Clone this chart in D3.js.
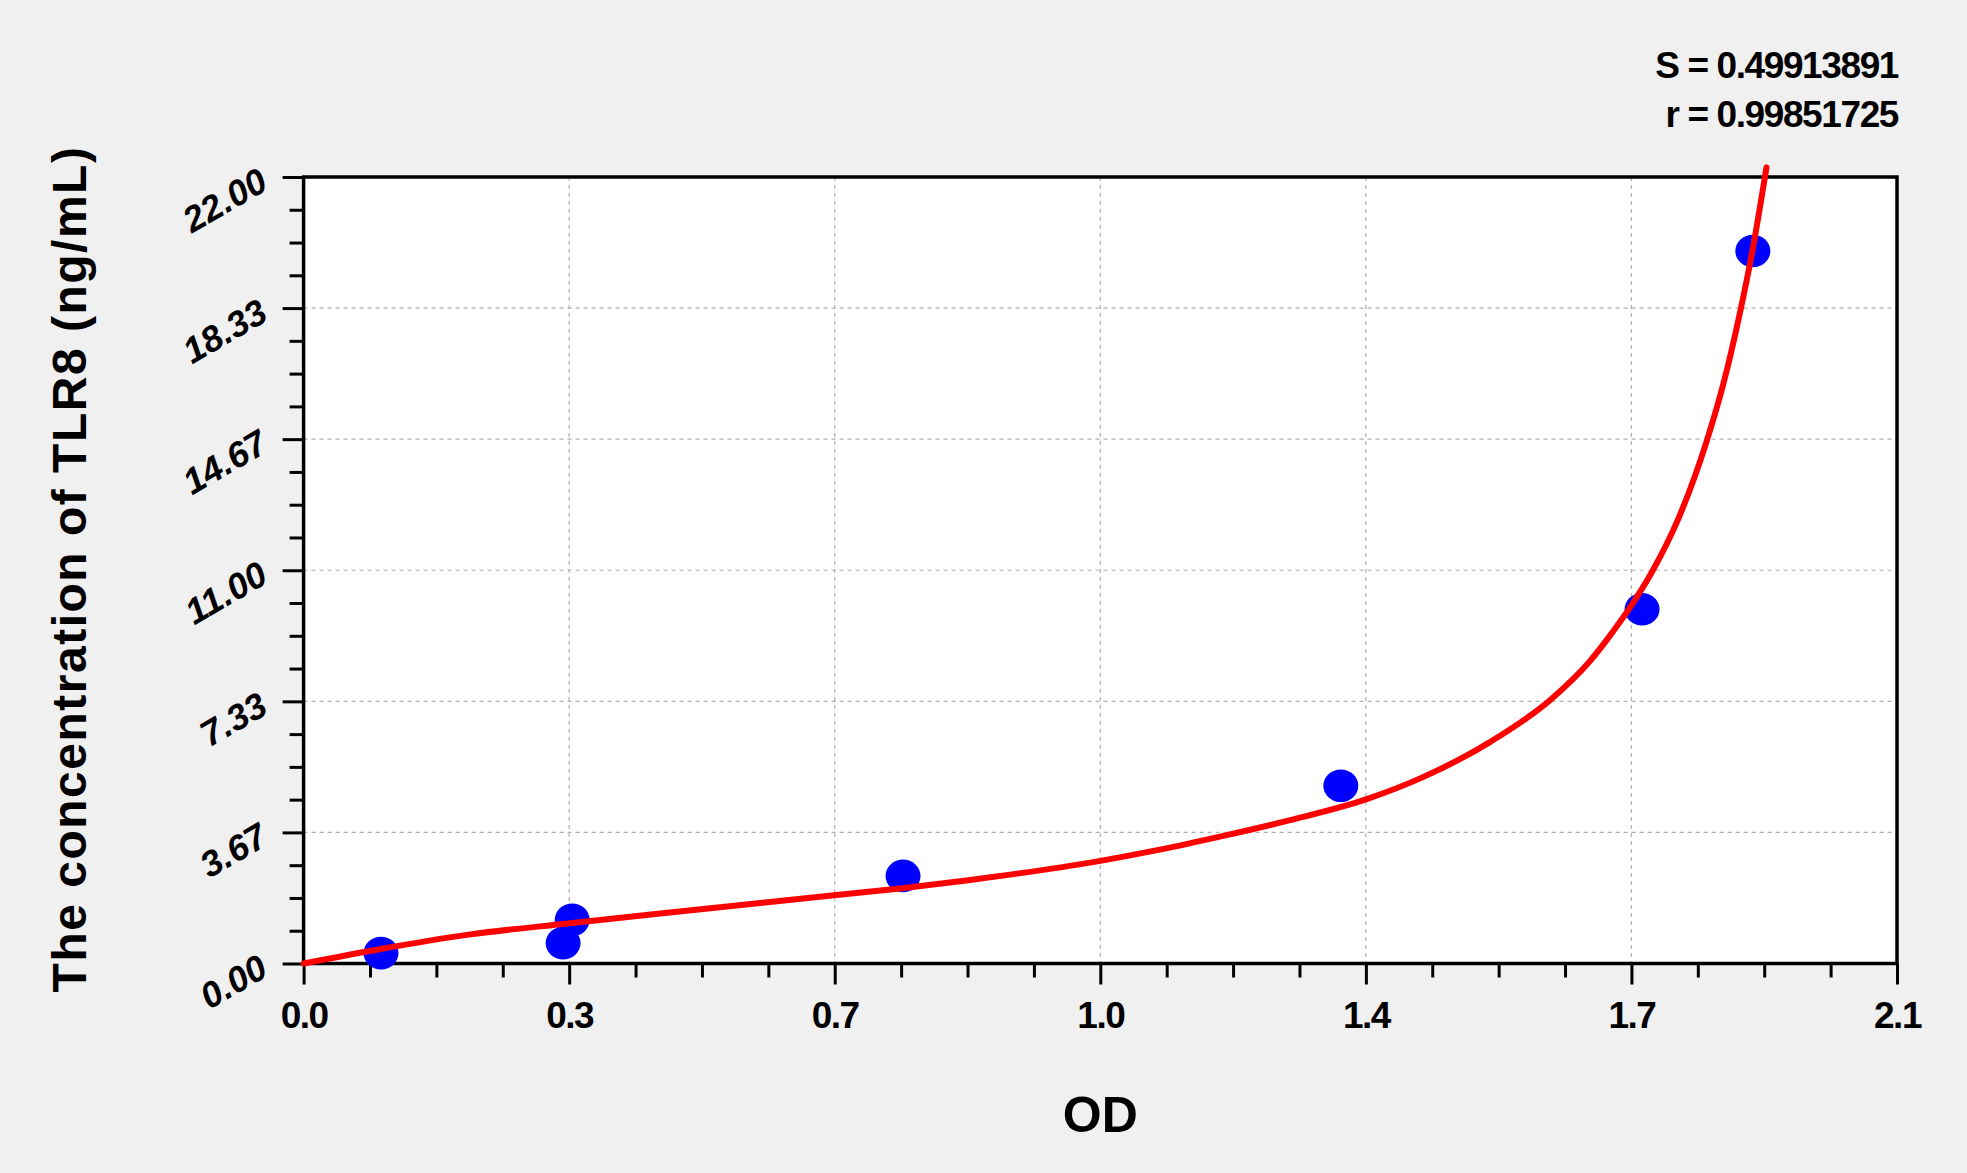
<!DOCTYPE html>
<html>
<head>
<meta charset="utf-8">
<script src="https://cdn.jsdelivr.net/npm/d3@7"></script>
<style>
  body { margin: 0; background: #f0f0f0; }
  svg { display: block; font-family: "Liberation Sans", Arial, sans-serif; }
</style>
</head>
<body>
<div id="chart"></div>
<script>

// standards: OD read vs known concentration
var stdOD   = [0.102, 0.342, 0.354, 0.790, 1.367, 1.764, 1.910]
var stdConc = [0.29, 0.57, 1.22, 2.45, 4.97, 9.91, 19.93]

// fitted curve
var fitOD   = [0, 0.100, 0.215, 0.348, 0.470, 0.605, 0.699, 0.786, 0.876, 1.050, 1.125, 1.212, 1.300, 1.400,
               1.476, 1.564, 1.643, 1.695, 1.721, 1.751, 1.777, 1.812, 1.849, 1.871, 1.893, 1.910, 1.928]
var fitConc = [0, 0.40, 0.80, 1.12, 1.40, 1.70, 1.91, 2.10, 2.33, 2.87, 3.17, 3.57, 4.01, 4.59,
               5.22, 6.20, 7.37, 8.45, 9.15, 10.05, 10.95, 12.45, 14.6, 16.2, 18.2, 20.0, 22.27]

var xTicks      = [0, 0.35, 0.7, 1.05, 1.4, 1.75, 2.1]
var xTickLabels = ["0.0", "0.3", "0.7", "1.0", "1.4", "1.7", "2.1"]
var yTicks      = [0, 3.667, 7.333, 11, 14.667, 18.333, 22]
var yTickLabels = ["0.00", "3.67", "7.33", "11.00", "14.67", "18.33", "22.00"]

var fitStats = ["S = 0.49913891", "r = 0.99851725"]
var xTitle = "OD"
var yTitle = "The concentration of TLR8 (ng/mL)"

var W = 1967, H = 1173
var margin = {top: 177, right: 70, bottom: 209.5, left: 303.6},
    width = W - margin.left - margin.right,
    height = H - margin.top - margin.bottom;

var svg = d3.select("#chart").append("svg")
    .attr("width", W)
    .attr("height", H)

svg.append("rect").attr("width", W).attr("height", H).attr("fill", "#f0f0f0")

var g = svg.append("g").attr("transform", "translate(" + margin.left + "," + margin.top + ")")

var x = d3.scaleLinear().domain([0, 2.1]).range([0, width])
var y = d3.scaleLinear().domain([0, 22]).range([height, 0])

// minor ticks: 4 steps between majors
var xMinor = d3.range(0, 2.1 + 1e-9, 0.35 / 4).filter((d, i) => i % 4 !== 0)
var yMinor = d3.range(0, 22 + 1e-9, 22 / 24).filter((d, i) => i % 4 !== 0)

g.append("rect")
  .attr("width", width).attr("height", height)
  .attr("fill", "#ffffff")

// ---- grid ----
var grid = g.append("g").attr("class", "grid")
    .attr("stroke", "#b0b0b0").attr("stroke-width", 1.2).attr("stroke-dasharray", "4,4")

grid.selectAll(".vg").data(xTicks.slice(1, -1)).enter().append("line")
  .attr("x1", d => x(d)).attr("x2", d => x(d))
  .attr("y1", 0).attr("y2", height)

grid.selectAll(".hg").data(yTicks.slice(1, -1)).enter().append("line")
  .attr("x1", 0).attr("x2", width)
  .attr("y1", d => y(d)).attr("y2", d => y(d))

// ---- axes ----
function styleAxis(sel) {
  sel.select(".domain").remove()
  sel.selectAll(".tick line").attr("stroke", "#000").attr("stroke-width", 3)
}

var xAxis = d3.axisBottom(x).tickValues(xTicks)
    .tickFormat((d, i) => xTickLabels[i]).tickSize(21).tickSizeOuter(0)
var xAxisMinor = d3.axisBottom(x).tickValues(xMinor).tickFormat("").tickSize(14).tickSizeOuter(0)

var yAxis = d3.axisLeft(y).tickValues(yTicks)
    .tickFormat((d, i) => yTickLabels[i]).tickSize(21).tickSizeOuter(0)
var yAxisMinor = d3.axisLeft(y).tickValues(yMinor).tickFormat("").tickSize(14).tickSizeOuter(0)

g.append("g").attr("transform", "translate(0," + height + ")").call(xAxisMinor).call(styleAxis)
var gx = g.append("g").attr("class", "axis x").attr("transform", "translate(0," + height + ")")
    .call(xAxis).call(styleAxis)
gx.selectAll("text")
  .attr("y", 64.5).attr("dy", 0)
  .attr("fill", "#000")
  .attr("font-size", 37).attr("font-weight", "bold")
  .attr("letter-spacing", -1.5)

g.append("g").call(yAxisMinor).call(styleAxis)
var gy = g.append("g").attr("class", "axis y").call(yAxis).call(styleAxis)
gy.selectAll("text")
  .attr("x", 0).attr("dy", "0.35em")
  .attr("transform", "translate(-40,0) rotate(-30)")
  .attr("fill", "#000")
  .attr("font-size", 36).attr("font-weight", "bold").attr("font-style", "italic")
  .style("text-anchor", "end")

// frame
g.append("rect")
  .attr("width", width).attr("height", height)
  .attr("fill", "none").attr("stroke", "#000").attr("stroke-width", 3.5)

// ---- titles ----
svg.append("text")
  .attr("x", margin.left + width / 2).attr("y", 1132)
  .attr("text-anchor", "middle")
  .attr("font-size", 50).attr("font-weight", "bold")
  .text(xTitle)

svg.append("text")
  .attr("transform", "translate(86," + 569 + ") rotate(-90)")
  .attr("text-anchor", "middle")
  .attr("font-size", 48).attr("font-weight", "bold")
  .attr("letter-spacing", 1.5)
  .text(yTitle)

svg.selectAll(".stat").data(fitStats).enter().append("text")
  .attr("class", "stat")
  .attr("x", margin.left + width + 1)
  .attr("y", (d, i) => 78 + i * 49)
  .attr("text-anchor", "end")
  .attr("font-size", 37).attr("font-weight", "bold")
  .attr("letter-spacing", -1.4)
  .text(d => d)

// ---- standards ----
var pts = stdOD.map((d, i) => ({od: d, conc: stdConc[i]}))
g.selectAll(".pt").data(pts).enter().append("ellipse")
  .attr("class", "pt")
  .attr("cx", d => x(d.od)).attr("cy", d => y(d.conc))
  .attr("rx", 17.5).attr("ry", 16.3)
  .attr("fill", "#0000ff")

// ---- fitted curve ----
var fit = fitOD.map((d, i) => ({od: d, conc: fitConc[i]}))
var line = d3.line()
    .x(d => x(d.od))
    .y(d => y(d.conc))
    .curve(d3.curveMonotoneX)

g.append("path")
  .attr("d", line(fit))
  .attr("fill", "none")
  .attr("stroke", "#ff0000")
  .attr("stroke-width", 6)
  .attr("stroke-linecap", "round")

</script>
</body>
</html>
